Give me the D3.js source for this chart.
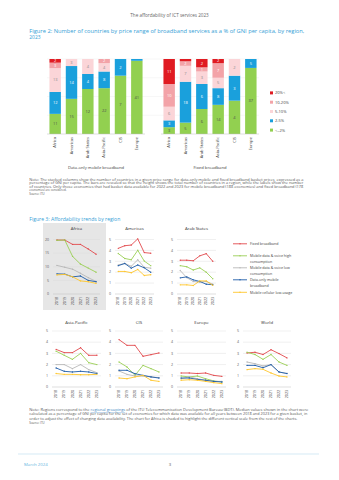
<!DOCTYPE html>
<html lang="en">
<head>
<meta charset="UTF-8">
<title>The affordability of ICT services 2023</title>
<script src="https://d3js.org/d3.v7.min.js"></script>
<style>
  body { margin: 0; background: #fff; }
  svg { display: block; font-family: "Open Sans", "Liberation Sans", sans-serif; }
</style>
</head>
<body>
<div id="page"></div>
<script>
// ---- Figure 2 data (number of countries per price band) ----
const regions = ["Africa", "Americas", "Arab States", "Asia-Pacific", "CIS", "Europe"];
const bands = ["<=2%", "2-5%", "5-10%", "10-20%", "20%<"];
const mobileLe2   = [11, 15, 12, 22, 7, 41];
const mobile2to5  = [12, 14, 4, 8, 2, 1];
const mobile5to10 = [13, 3, 4, 4, 0, 0];
const mobile10to20 = [3, 0, 0, 2, 0, 0];
const mobileOver20 = [2, 0, 0, 0, 0, 0];
const fixedLe2   = [3, 5, 6, 14, 4, 37];
const fixed2to5  = [3, 18, 6, 8, 3, 5];
const fixed5to10 = [6, 7, 3, 5, 2, 0];
const fixed10to20 = [10, 2, 1, 7, 0, 0];
const fixedOver20 = [11, 1, 2, 2, 0, 0];

// ---- Figure 3 data (median price, % of GNI p.c.) ----
const years = ["2018", "2019", "2020", "2021", "2022", "2023"];
const baskets = ["Fixed broadband", "Mobile data & voice high consumption", "Mobile data & voice low consumption",
                 "Data-only mobile broadband", "Mobile cellular low-usage"];
const africa = [
  [19.8, 19.8, 18.2, 18.2, 16.5, 14.6],
  [19.7, 19.8, 13.8, 11.0, 9.5, 8.0],
  [10.5, 9.8, 9.1, 7.6, 6.0, 4.6],
  [7.4, 7.3, 6.3, 6.6, 5.0, 4.5],
  [7.0, 7.2, 6.3, 4.8, 4.5, 3.9]
];
const americas = [
  [4.19, 4.43, 4.49, 5.06, 3.8, 3.74],
  [3.71, 3.26, 3.14, 4.01, 3.02, 2.6],
  [2.66, 2.81, 2.54, 3.14, 2.45, 2.37],
  [2.6, 2.8, 2.37, 2.66, 2.4, 2.0],
  [2.07, 2.07, 1.95, 2.25, 1.7, 1.77]
];
const arabStates = [
  [3.1, 3.1, 3.05, 3.5, 3.7, 3.0],
  [2.6, 2.5, 2.2, 2.4, 2.0, 1.4],
  [2.15, 1.5, 1.15, 1.1, 1.15, 0.9],
  [1.48, 1.57, 1.3, 1.15, 0.9, 0.85],
  [0.84, 0.84, 0.78, 1.2, 1.2, 0.8]
];
const asiaPacific = [
  [3.36, 3.07, 3.07, 3.5, 2.83, 2.83],
  [3.2, 2.83, 2.47, 3.0, 2.17, 2.0],
  [2.0, 2.0, 1.64, 2.0, 1.55, 1.28],
  [1.7, 1.4, 1.34, 1.4, 1.34, 1.2],
  [1.2, 1.13, 1.13, 1.1, 1.1, 1.13]
];
const cis = [
  [4.23, 3.72, 3.72, 2.74, 2.89, 3.04],
  [2.23, 1.79, 1.04, 1.93, 1.64, 1.34],
  [1.43, 1.13, 0.98, 0.98, 0.9, 0.83],
  [1.49, 1.49, 1.19, 1.04, 0.9, 0.8],
  [0.8, 0.74, 0.9, 1.04, 0.6, 0.5]
];
const europe = [
  [1.25, 1.25, 1.2, 1.25, 1.04, 0.95],
  [0.98, 0.9, 0.98, 0.74, 0.54, 0.45],
  [0.74, 0.9, 0.74, 0.6, 0.5, 0.5],
  [0.8, 0.8, 0.68, 0.6, 0.5, 0.45],
  [0.6, 0.65, 0.6, 0.5, 0.39, 0.3]
];
const world = [
  [3.04, 3.1, 2.9, 3.33, 2.98, 2.6],
  [3.1, 2.9, 2.47, 2.9, 2.23, 1.93],
  [2.23, 2.08, 1.88, 2.0, 1.34, 1.2],
  [1.93, 1.93, 1.72, 2.0, 1.34, 1.2],
  [1.55, 1.64, 1.58, 1.25, 0.98, 0.9]
];
const ticks20 = [0, 5, 10, 15, 20];
const ticks5 = [0, 1, 2, 3, 4, 5];

const bandColors = ["#92d050", "#1aa0dc", "#fbd5d8", "#f3a3a8", "#e01b22"];
const bandText = ["#4d4d4d", "#ffffff", "#8c8c8c", "#ffffff", "#ffffff"];
const lineColors = ["#e2494d", "#9bcf56", "#b8b8b8", "#1f5ca8", "#ffc62b"];
const blue = "#35a0d6";

const W = 339, H = 480;
const svg = d3.select("#page").append("svg").attr("width", W).attr("height", H);
svg.append("rect").attr("width", W).attr("height", H).attr("fill", "#fff");

// paragraph helper, width forced to match the page layout
function para(lines, x, y0, dy, size, color) {
  lines.forEach((l, i) => {
    const t = svg.append("text").attr("x", x).attr("y", y0 + i * dy)
      .attr("font-size", size).attr("fill", color).text(l.t);
    if (l.w) t.attr("textLength", l.w).attr("lengthAdjust", "spacingAndGlyphs");
  });
}

// header
svg.append("text").attr("x", 169.5).attr("y", 17).attr("text-anchor", "middle")
  .attr("font-size", 4.6).attr("fill", "#666").text("The affordability of ICT services 2023");

// ---- Figure 2 ----
para([{t: "Figure 2: Number of countries by price range of broadband services as a % of GNI per capita, by region,", w: 275},
      {t: "2023"}], 29.3, 32.5, 6.4, 4.9, blue);

const y2 = d3.scaleLinear().domain([0, 1]).range([134, 59]);
const groups = [
  {name: "Data-only mobile broadband", range: [47, 145], cols: [mobileLe2, mobile2to5, mobile5to10, mobile10to20, mobileOver20]},
  {name: "Fixed broadband", range: [161, 259], cols: [fixedLe2, fixed2to5, fixed5to10, fixed10to20, fixedOver20]}
];

// faint gridlines
svg.append("g").selectAll("line").data([0.25, 0.5, 0.75, 1]).join("line")
  .attr("x1", 47).attr("x2", 259).attr("y1", d => y2(d)).attr("y2", d => y2(d))
  .attr("stroke", "#ececec").attr("stroke-width", 0.4);

groups.forEach(g => {
  const x = d3.scaleBand().domain(regions).range(g.range).paddingInner(0.3).paddingOuter(0.15);
  const rows = regions.map((r, i) => {
    const o = {region: r};
    bands.forEach((b, j) => o[b] = g.cols[j][i]);
    return o;
  });
  const totals = rows.map(r => d3.sum(bands, b => r[b]));
  const norm = rows.map((r, i) => {
    const o = {region: r.region};
    bands.forEach(b => o[b] = r[b] / totals[i]);
    return o;
  });
  const stack = d3.stack().keys(bands)(norm);
  const gg = svg.append("g");
  stack.forEach((layer, j) => {
    gg.append("g").selectAll("rect").data(layer).join("rect")
      .attr("x", d => x(d.data.region)).attr("width", x.bandwidth())
      .attr("y", d => y2(d[1])).attr("height", d => y2(d[0]) - y2(d[1]))
      .attr("fill", bandColors[j]);
    gg.append("g").selectAll("text").data(layer.map((d, i) => ({d, v: rows[i][bands[j]]})))
      .join("text")
      .filter(e => e.v > 0 && y2(e.d[0]) - y2(e.d[1]) > 2.6)
      .attr("x", e => x(e.d.data.region) + x.bandwidth() / 2)
      .attr("y", e => (y2(e.d[0]) + y2(e.d[1])) / 2 + 1.4)
      .attr("text-anchor", "middle").attr("font-size", 4)
      .attr("fill", bandText[j]).text(e => e.v);
  });
  // baseline axis
  gg.append("line").attr("x1", g.range[0]).attr("x2", g.range[1]).attr("y1", 134).attr("y2", 134)
    .attr("stroke", "#bfbfbf").attr("stroke-width", 0.5);
  gg.append("g").selectAll("text").data(regions).join("text")
    .attr("transform", d => `translate(${x(d) + x.bandwidth() / 2 + 1.3},137) rotate(-90)`)
    .attr("text-anchor", "end").attr("font-size", 4).attr("fill", "#404040").text(d => d);
  gg.append("text").attr("x", (g.range[0] + g.range[1]) / 2).attr("y", 169)
    .attr("text-anchor", "middle").attr("font-size", 4.2).attr("fill", "#404040").text(g.name);
});

// legend for figure 2 (top to bottom = highest band first)
const leg2 = bands.slice().reverse();
svg.append("g").selectAll("g").data(leg2).join("g")
  .attr("transform", (d, i) => `translate(270,${94 + i * 9.3})`)
  .each(function (d) {
    const j = bands.indexOf(d);
    d3.select(this).append("rect").attr("x", 0).attr("y", -2.6).attr("width", 3).attr("height", 3)
      .attr("fill", bandColors[j]);
    d3.select(this).append("text").attr("x", 5).attr("y", 0.4).attr("font-size", 4)
      .attr("fill", "#404040").text(d);
  });

para([
  {t: "Note: The stacked columns show the number of countries in a given price range for data-only mobile and fixed broadband basket prices, expressed as a", w: 274},
  {t: "percentage of GNI per capita. The bars are rescaled so that the height shows the total number of countries in a region, while the labels show the number", w: 274},
  {t: "of countries. Only those economies that had basket data available for 2022 and 2023 for mobile broadband (188 economies) and fixed broadband (178", w: 274},
  {t: "economies) are considered."},
  {t: "Source: ITU"}
], 29.3, 181, 3.4, 2.9, "#555");

// ---- Figure 3 ----
svg.append("text").attr("x", 29.3).attr("y", 220.5).attr("font-size", 5.1).attr("fill", blue)
  .text("Figure 3: Affordability trends by region");

svg.append("rect").attr("x", 43).attr("y", 223).attr("width", 63).attr("height", 87).attr("fill", "#e6e6e6");

const panels = [
  {name: "Africa", data: africa, ticks: ticks20, xr: [53, 100], yr: [294, 239.5], ty: 230},
  {name: "Americas", data: americas, ticks: ticks5, xr: [115, 154], yr: [294, 239.5], ty: 230},
  {name: "Arab States", data: arabStates, ticks: ticks5, xr: [177, 216], yr: [294, 239.5], ty: 230},
  {name: "Asia-Pacific", data: asiaPacific, ticks: ticks5, xr: [52, 101], yr: [387, 331], ty: 323.5},
  {name: "CIS", data: cis, ticks: ticks5, xr: [115, 163], yr: [387, 331], ty: 323.5},
  {name: "Europe", data: europe, ticks: ticks5, xr: [177, 226], yr: [387, 331], ty: 323.5},
  {name: "World", data: world, ticks: ticks5, xr: [243, 291], yr: [387, 331], ty: 323.5}
];

panels.forEach(p => {
  const x = d3.scalePoint().domain(years).range(p.xr).padding(0.5);
  const y = d3.scaleLinear().domain([0, d3.max(p.ticks)]).range(p.yr);
  const g = svg.append("g");
  g.append("text").attr("x", (p.xr[0] + p.xr[1]) / 2).attr("y", p.ty).attr("text-anchor", "middle")
    .attr("font-size", 4.3).attr("fill", "#333").text(p.name);
  g.append("g").selectAll("line").data(p.ticks.slice(1)).join("line")
    .attr("x1", p.xr[0]).attr("x2", p.xr[1]).attr("y1", d => y(d)).attr("y2", d => y(d))
    .attr("stroke", "#d9d9d9").attr("stroke-width", 0.4);
  g.append("line").attr("x1", p.xr[0]).attr("x2", p.xr[1]).attr("y1", y(0)).attr("y2", y(0))
    .attr("stroke", "#bfbfbf").attr("stroke-width", 0.5);
  g.append("g").selectAll("text").data(p.ticks).join("text")
    .attr("x", p.xr[0] - 4).attr("y", d => y(d) + 1.2).attr("text-anchor", "end")
    .attr("font-size", 3.6).attr("fill", "#595959").text(d => d);
  g.append("g").selectAll("text").data(years).join("text")
    .attr("transform", d => `translate(${x(d) + 1.2},${p.yr[0] + 3}) rotate(-90)`)
    .attr("text-anchor", "end").attr("font-size", 3.6).attr("fill", "#404040").text(d => d);
  const line = d3.line().x((d, i) => x(years[i])).y(d => y(d));
  p.data.forEach((s, k) => {
    g.append("path").datum(s).attr("d", line).attr("fill", "none")
      .attr("stroke", lineColors[k]).attr("stroke-width", 0.9);
    g.append("g").selectAll("circle").data(s).join("circle")
      .attr("cx", (d, i) => x(years[i])).attr("cy", d => y(d)).attr("r", 0.7)
      .attr("fill", lineColors[k]);
  });
});

// legend for figure 3
const leg3 = [
  {k: 0, y: 245, lines: ["Fixed broadband"]},
  {k: 1, y: 257, lines: ["Mobile data & voice high", "consumption"]},
  {k: 2, y: 269, lines: ["Mobile data & voice low", "consumption"]},
  {k: 3, y: 281, lines: ["Data-only mobile", "broadband"]},
  {k: 4, y: 293.5, lines: ["Mobile cellular low-usage"]}
];
leg3.forEach(l => {
  svg.append("line").attr("x1", 233).attr("x2", 247).attr("y1", l.y - 1.2).attr("y2", l.y - 1.2)
    .attr("stroke", lineColors[l.k]).attr("stroke-width", 0.9);
  svg.append("circle").attr("cx", 240).attr("cy", l.y - 1.2).attr("r", 0.7).attr("fill", lineColors[l.k]);
  l.lines.forEach((t, i) => svg.append("text").attr("x", 250).attr("y", l.y + i * 5.6)
    .attr("font-size", 3.6).attr("fill", "#404040").text(t));
});

// note for figure 3
const n1 = svg.append("text").attr("x", 29.3).attr("y", 411).attr("font-size", 2.9).attr("fill", "#555")
  .attr("textLength", 279).attr("lengthAdjust", "spacingAndGlyphs");
n1.append("tspan").text("Note: Regions correspond to the ");
n1.append("tspan").attr("fill", "#3a7fc1").attr("text-decoration", "underline").text("regional groupings");
n1.append("tspan").text(" of the ITU Telecommunication Development Bureau (BDT). Median values shown in the chart were");
para([
  {t: "calculated as a percentage of GNI per capita for the set of economies for which data was available for all years between 2018 and 2023 for a given basket, in", w: 278},
  {t: "order to adjust the effect of changing data availability. The chart for Africa is shaded to highlight the different vertical scale from the rest of the charts.", w: 268},
  {t: "Source: ITU"}
], 29.3, 415.4, 4.4, 2.9, "#555");

// footer
svg.append("line").attr("x1", 18).attr("x2", 319).attr("y1", 454).attr("y2", 454)
  .attr("stroke", "#b9dcef").attr("stroke-width", 0.6);
svg.append("text").attr("x", 24).attr("y", 465.5).attr("font-size", 4.3).attr("fill", "#5fb4e0").text("March 2024");
svg.append("text").attr("x", 170).attr("y", 465.5).attr("text-anchor", "middle").attr("font-size", 4.3)
  .attr("fill", "#666").text("3");
</script>
</body>
</html>
